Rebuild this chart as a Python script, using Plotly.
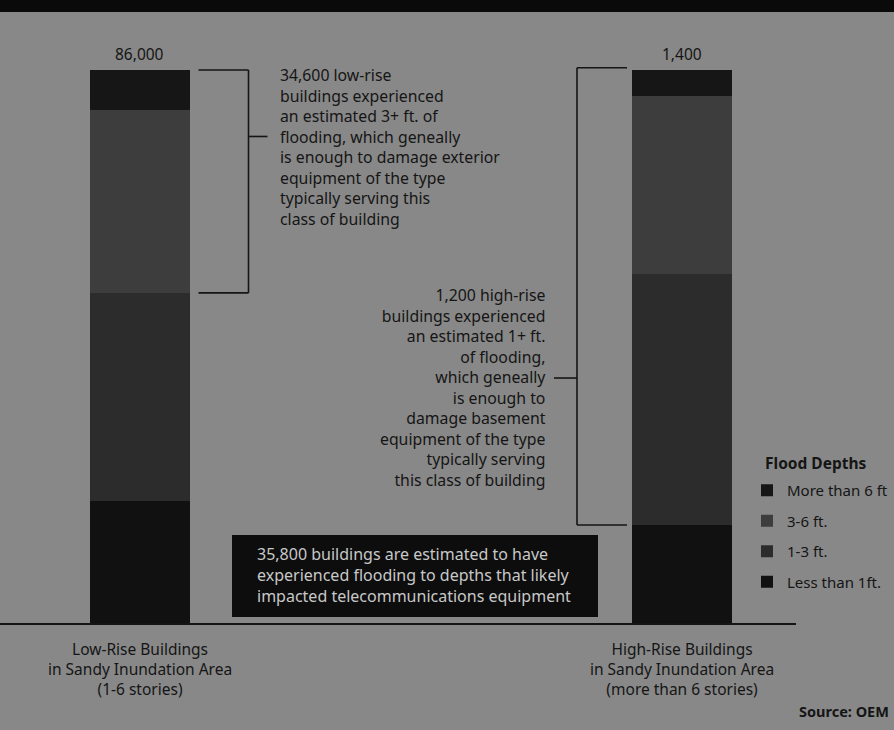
import plotly.graph_objects as go

# ---------------- data ----------------
categories = ["Low-Rise", "High-Rise"]
category_labels = [
    "Low-Rise Buildings<br>in Sandy Inundation Area<br>(1-6 stories)",
    "High-Rise Buildings<br>in Sandy Inundation Area<br>(more than 6 stories)",
]
totals = [86000, 1400]
total_labels = ["86,000", "1,400"]

depth_names = ["Less than 1ft.", "1-3 ft.", "3-6 ft.", "More than 6 ft"]
less_than_1ft = [19100, 250]
ft_1_3 = [32300, 635]
ft_3_6 = [28400, 450]
more_than_6ft = [6200, 65]
series = [less_than_1ft, ft_1_3, ft_3_6, more_than_6ft]
legend_ranks = [4, 3, 2, 1]
colors = ["#111111", "#2c2c2c", "#3d3d3d", "#161616"]

note_low = ("34,600 low-rise<br>buildings experienced<br>an estimated 3+ ft. of<br>"
            "flooding, which geneally<br>is enough to damage exterior<br>"
            "equipment of the type<br>typically serving this<br>class of building")
note_high = ("1,200 high-rise<br>buildings experienced<br>an estimated 1+ ft.<br>"
             "of flooding,<br>which geneally<br>is enough to<br>damage basement<br>"
             "equipment of the type<br>typically serving<br>this class of building")
note_box = ("35,800 buildings are estimated to have<br>experienced flooding to depths that likely<br>"
            "impacted telecommunications equipment")

# ---------------- geometry helpers ----------------
W, H = 894, 730
PX = 1 / 542.5          # one pixel in category units
BAR_W = 100 * PX
PY = 1 / 5.54           # one pixel in percent units
BG = "#888888"
INK = "#151515"
FONT = "Noto Sans"

# percentage shares (100% stacked)
shares = [[s[i] / totals[i] * 100 for i in range(2)] for s in series]

fig = go.Figure()
for name, vals, c, rk in zip(depth_names, series, colors, legend_ranks):
    fig.add_trace(go.Bar(
        x=categories, y=vals, name=name, width=BAR_W,
        marker=dict(color=c, line=dict(width=0)),
        legendgroup=name, legendrank=rk,
    ))

fig.update_layout(
    barmode="stack", barnorm="percent",
    width=W, height=H,
    margin=dict(l=0, r=0, t=0, b=0, autoexpand=False),
    paper_bgcolor=BG, plot_bgcolor=BG,
    font=dict(family=FONT, size=14, color=INK),
    xaxis=dict(range=[-139.5 * PX, (W - 139.5) * PX], visible=False, fixedrange=True),
    yaxis=dict(range=[-106 * PY, 624 * PY], visible=False, fixedrange=True),
    showlegend=True,
    legend=dict(
        x=747 / W, y=1 - 474 / H, xanchor="left", yanchor="top",
        bgcolor="rgba(0,0,0,0)", traceorder="grouped",
        tracegroupgap=8,
        font=dict(family=FONT, size=15, color=INK),
    ),
)

shapes = []
# top black band
shapes.append(dict(type="rect", xref="paper", yref="paper", x0=0, x1=1, y0=1 - 12 / H, y1=1,
                   fillcolor="#0a0a0a", line=dict(width=0), layer="below"))
# baseline
right2 = 1 + BAR_W / 2
shapes.append(dict(type="line", xref="paper", yref="y", x0=0, x1=(right2 / PX + 139.5 + 64) / W,
                   y0=0, y1=0, line=dict(color=INK, width=2)))

# bracket for low-rise (3+ ft)
right1 = BAR_W / 2
y_top1 = 100
y_bot1 = shares[0][0] + shares[1][0]
bx = right1 + 59 * PX
lw = dict(color=INK, width=1.6)
shapes += [
    dict(type="line", x0=right1 + 9 * PX, x1=bx, y0=y_top1, y1=y_top1, line=lw),
    dict(type="line", x0=bx, x1=bx, y0=y_top1, y1=y_bot1, line=lw),
    dict(type="line", x0=right1 + 9 * PX, x1=bx, y0=y_bot1, y1=y_bot1, line=lw),
    dict(type="line", x0=bx, x1=bx + 19 * PX, y0=88, y1=88, line=lw),
]
# bracket for high-rise (1+ ft)
left2 = 1 - BAR_W / 2
y_top2 = 100
y_bot2 = shares[0][1]
bx2 = left2 - 55 * PX
shapes += [
    dict(type="line", x0=bx2, x1=left2 - 5 * PX, y0=y_top2 + 0.4, y1=y_top2 + 0.4, line=lw),
    dict(type="line", x0=bx2, x1=bx2, y0=y_top2 + 0.4, y1=y_bot2, line=lw),
    dict(type="line", x0=bx2, x1=left2 - 5 * PX, y0=y_bot2, y1=y_bot2, line=lw),
    dict(type="line", x0=bx2 - 23 * PX, x1=bx2, y0=44.4, y1=44.4, line=lw),
]
# dark summary box
shapes.append(dict(type="rect", x0=(232 - 139.5) * PX, x1=(598 - 139.5) * PX,
                   y0=(624 - 617) * PY, y1=(624 - 535) * PY,
                   fillcolor="#0d0d0d", line=dict(width=0)))
for s in shapes:
    s.setdefault("xref", "x")
    s.setdefault("yref", "y")
fig.update_layout(shapes=shapes)

ann = []
# totals above bars
for i, lab in enumerate(total_labels):
    ann.append(dict(x=i, y=100, text=lab, showarrow=False, yanchor="bottom", yshift=3,
                    font=dict(size=15.5, color=INK)))
# category labels
for i, lab in enumerate(category_labels):
    ann.append(dict(x=i, y=-2.2, text=lab, showarrow=False, yanchor="top",
                    align="center", font=dict(size=15.5, color=INK)))
# notes
ann.append(dict(x=right1 + 88 * PX, y=(624 - 147) * PY, text=note_low, showarrow=False,
                xanchor="left", yanchor="middle", align="left", font=dict(size=15.8, color=INK)))
ann.append(dict(x=left2 - 84 * PX, y=(624 - 387) * PY, text=note_high, showarrow=False,
                xanchor="right", yanchor="middle", align="right", font=dict(size=15.8, color=INK)))
ann.append(dict(x=(255 - 139.5) * PX, y=(624 - 575) * PY, text=note_box, showarrow=False,
                xanchor="left", yanchor="middle", align="left", font=dict(size=16, color="#c8c8c8")))
# legend title
ann.append(dict(x=763 / W, y=1 - 463 / H, xref="paper", yref="paper", text="<b>Flood Depths</b>",
                showarrow=False, xanchor="left", yanchor="middle",
                font=dict(size=15.5, color=INK)))
# source
ann.append(dict(x=1, y=1 - 711 / H, xref="paper", yref="paper", text="<b>Source: OEM</b>",
                showarrow=False, xanchor="right", yanchor="middle", xshift=-3,
                font=dict(size=14.5, color=INK)))
fig.update_layout(annotations=ann)

fig.write_html("out.html")
